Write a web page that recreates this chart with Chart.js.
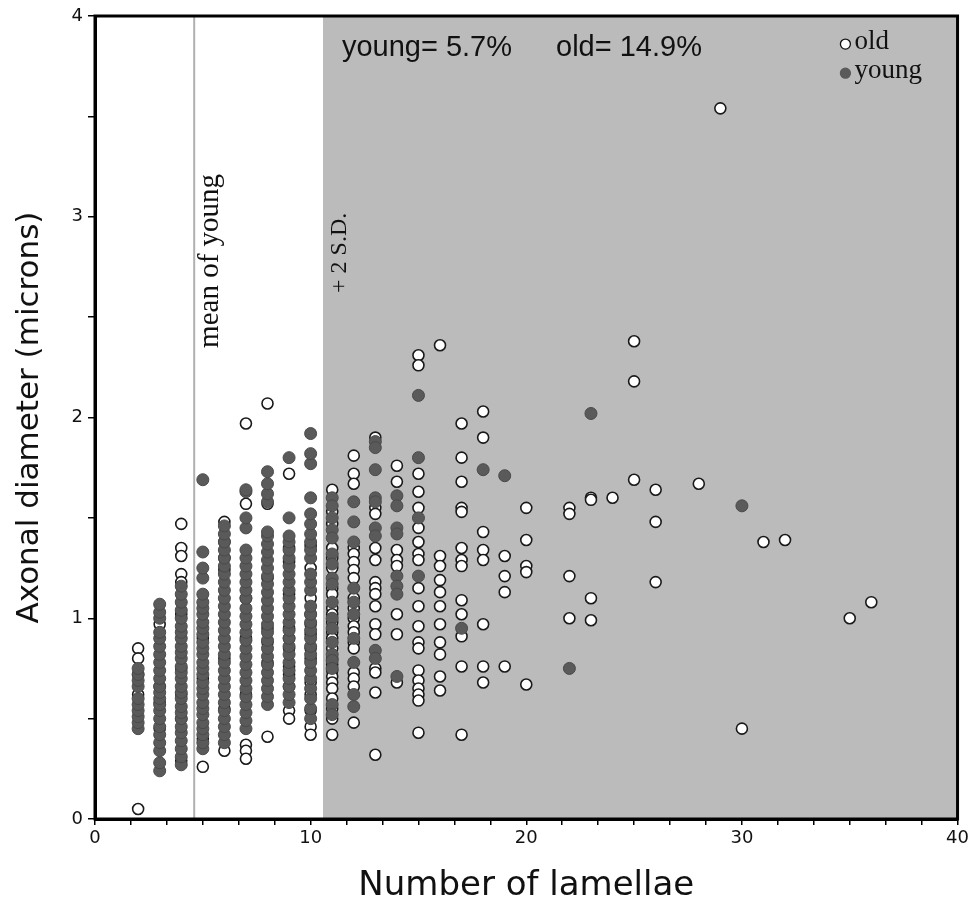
<!DOCTYPE html>
<html>
<head>
<meta charset="utf-8">
<script src="https://cdn.jsdelivr.net/npm/chart.js@4/dist/chart.umd.min.js"></script>
<style>
  body { margin: 0; background: #fff; }
  #wrap { width: 972px; height: 907px; }
</style>
</head>
<body>
<div id="wrap"><canvas id="chart1"></canvas></div>
<script>
// number of lamellae -> axonal diameters (microns)
const oldData = [
  [2, [0.85, 0.80, 0.72, 0.62, 0.05]],
  [3, [0.97, 0.66, 0.58, 0.45]],
  [4, [1.47, 1.35, 1.31, 1.22, 1.18, 1.02, 0.75, 0.62, 0.50, 0.29]],
  [5, [0.90, 0.70, 0.40, 0.26]],
  [6, [1.48, 1.38, 1.30, 1.24, 0.80, 0.55, 0.34]],
  [7, [1.97, 1.57, 1.10, 0.90, 0.62, 0.37, 0.34, 0.30]],
  [8, [2.07, 1.57, 1.20, 0.95, 0.88, 0.78, 0.41]],
  [9, [1.72, 1.35, 1.28, 1.12, 0.95, 0.90, 0.85, 0.76, 0.72, 0.66, 0.54, 0.50]],
  [10, [1.36, 1.25, 1.10, 1.02, 0.97, 0.92, 0.85, 0.80, 0.68, 0.62, 0.54, 0.46, 0.42]],
  [11, [1.64, 1.53, 1.47, 1.35, 1.30, 1.25, 1.15, 1.12, 1.05, 1.02, 0.98, 0.93, 0.90, 0.85, 0.80, 0.77, 0.74, 0.71, 0.68, 0.65, 0.60, 0.55, 0.50, 0.42]],
  [12, [1.81, 1.72, 1.67, 1.35, 1.32, 1.28, 1.24, 1.20, 1.10, 1.05, 1.00, 0.96, 0.93, 0.88, 0.85, 0.73, 0.70, 0.66, 0.48]],
  [13, [1.90, 1.55, 1.52, 1.35, 1.29, 1.18, 1.15, 1.12, 1.06, 0.97, 0.92, 0.75, 0.73, 0.63, 0.32]],
  [14, [1.76, 1.68, 1.34, 1.29, 1.26, 1.02, 0.92, 0.68]],
  [15, [2.31, 2.26, 1.72, 1.63, 1.55, 1.45, 1.38, 1.32, 1.29, 1.15, 1.06, 0.96, 0.88, 0.85, 0.74, 0.69, 0.65, 0.62, 0.59, 0.43]],
  [16, [2.36, 1.31, 1.26, 1.19, 1.13, 1.06, 0.97, 0.88, 0.82, 0.71, 0.64]],
  [17, [1.97, 1.80, 1.68, 1.55, 1.53, 1.35, 1.29, 1.26, 1.09, 1.02, 0.91, 0.76, 0.42]],
  [18, [2.03, 1.90, 1.43, 1.34, 1.29, 0.97, 0.76, 0.68]],
  [19, [1.31, 1.21, 1.13, 0.76]],
  [20, [1.55, 1.39, 1.26, 1.23, 0.67]],
  [22, [1.55, 1.52, 1.21, 1.00]],
  [23, [1.60, 1.59, 1.10, 0.99]],
  [24, [1.60]],
  [25, [2.38, 2.18, 1.69]],
  [26, [1.64, 1.48, 1.18]],
  [28, [1.67]],
  [29, [3.54]],
  [30, [0.45]],
  [31, [1.38]],
  [32, [1.39]],
  [35, [1.00]],
  [36, [1.08]]
];

const youngData = [
  [2, [0.45, 0.48, 0.51, 0.54, 0.57, 0.60, 0.66, 0.69, 0.72, 0.75]],
  [3, [0.24, 0.28, 0.34, 0.38, 0.42, 0.46, 0.50, 0.54, 0.57, 0.60, 0.63, 0.66, 0.70, 0.74, 0.78, 0.82, 0.86, 0.90, 0.93, 1.00, 1.03, 1.07]],
  [4, [0.27, 0.31, 0.35, 0.39, 0.43, 0.46, 0.50, 0.53, 0.56, 0.60, 0.63, 0.66, 0.70, 0.73, 0.76, 0.80, 0.83, 0.86, 0.90, 0.93, 0.96, 1.00, 1.04, 1.08, 1.12, 1.16]],
  [5, [0.35, 0.38, 0.42, 0.45, 0.48, 0.52, 0.55, 0.58, 0.62, 0.65, 0.68, 0.72, 0.75, 0.78, 0.82, 0.85, 0.88, 0.92, 0.95, 0.98, 1.02, 1.05, 1.08, 1.12, 1.20, 1.25, 1.33, 1.69]],
  [6, [0.38, 0.42, 0.46, 0.50, 0.54, 0.58, 0.62, 0.66, 0.70, 0.74, 0.78, 0.82, 0.86, 0.90, 0.94, 0.98, 1.02, 1.06, 1.10, 1.14, 1.18, 1.22, 1.26, 1.30, 1.34, 1.38, 1.42, 1.46]],
  [7, [0.45, 0.49, 0.53, 0.57, 0.61, 0.65, 0.69, 0.73, 0.77, 0.81, 0.85, 0.89, 0.93, 0.97, 1.01, 1.05, 1.10, 1.14, 1.18, 1.22, 1.26, 1.30, 1.34, 1.45, 1.50, 1.63, 1.64]],
  [8, [0.57, 0.61, 0.65, 0.69, 0.73, 0.77, 0.81, 0.85, 0.89, 0.93, 0.97, 1.01, 1.05, 1.09, 1.13, 1.17, 1.21, 1.25, 1.29, 1.33, 1.37, 1.41, 1.43, 1.58, 1.62, 1.67, 1.73]],
  [9, [0.58, 0.62, 0.66, 0.70, 0.74, 0.78, 0.82, 0.86, 0.90, 0.94, 0.98, 1.02, 1.06, 1.10, 1.14, 1.18, 1.22, 1.26, 1.30, 1.34, 1.38, 1.41, 1.50, 1.80]],
  [10, [0.50, 0.55, 0.60, 0.65, 0.70, 0.74, 0.78, 0.82, 0.86, 0.90, 0.94, 0.98, 1.02, 1.06, 1.14, 1.18, 1.22, 1.30, 1.34, 1.38, 1.42, 1.47, 1.52, 1.60, 1.77, 1.82, 1.92]],
  [11, [1.60, 1.56, 1.50, 1.44, 1.40, 1.32, 1.27, 1.20, 1.17, 1.08, 1.00, 0.95, 0.88, 0.82, 0.79, 0.75, 0.57, 0.52]],
  [12, [1.58, 1.48, 1.38, 1.15, 1.08, 1.02, 0.90, 0.78, 0.62, 0.56]],
  [13, [1.88, 1.85, 1.74, 1.60, 1.58, 1.45, 1.41, 0.84, 0.80]],
  [14, [1.61, 1.56, 1.45, 1.42, 1.21, 1.16, 1.12, 0.71]],
  [15, [2.11, 1.80, 1.50, 1.21]],
  [17, [0.95]],
  [18, [1.74]],
  [19, [1.71]],
  [22, [0.75]],
  [23, [2.02]],
  [30, [1.56]]
];

const xTickLabels = [0, 10, 20, 30, 40];
const yTickLabels = [0, 1, 2, 3, 4];
const meanOfYoung = 4.6;   // vertical grey line
const plus2SD = 10.57;     // start of shaded area

function toPoints(cols) {
  const pts = [];
  cols.forEach(([x, ys]) => ys.forEach((y) => pts.push({ x: x, y: y })));
  return pts;
}

const YOUNG_FILL = "#5a5a5a";
const SHADE = "#bbbbbb";
const SANS = "'DejaVu Sans', sans-serif";
const SERIF = "'Liberation Serif', 'Times New Roman', serif";

// frame, annotation texts and legend
const extras = {
  id: "extras",
  afterDatasetsDraw(chart) {
    const { ctx, chartArea, scales } = chart;
    const x = scales.x, y = scales.y;
    ctx.save();
    ctx.strokeStyle = "#000";
    ctx.lineWidth = 3;
    ctx.strokeRect(chartArea.left, chartArea.top, chartArea.right - chartArea.left, chartArea.bottom - chartArea.top);

    ctx.fillStyle = "#111";
    ctx.textBaseline = "alphabetic";
    ctx.textAlign = "left";
    ctx.font = "29px 'Liberation Sans', Arial, sans-serif";
    ctx.fillText("young= 5.7%", x.getPixelForValue(11.45), y.getPixelForValue(3.8));
    ctx.fillText("old= 14.9%", x.getPixelForValue(21.38), y.getPixelForValue(3.8));

    // rotated labels
    ctx.textAlign = "center";
    ctx.textBaseline = "middle";
    ctx.font = "29px " + SERIF;
    ctx.save();
    ctx.translate(x.getPixelForValue(5.35), y.getPixelForValue(2.78));
    ctx.rotate(-Math.PI / 2);
    ctx.fillText("mean of young", 0, 0);
    ctx.restore();
    ctx.font = "24px " + SERIF;
    ctx.save();
    ctx.translate(x.getPixelForValue(11.35), y.getPixelForValue(2.82));
    ctx.rotate(-Math.PI / 2);
    ctx.fillText("+ 2 S.D.", 0, 0);
    ctx.restore();

    // legend
    const lx = x.getPixelForValue(34.8);
    const rows = [["old", "#fff", 3.87], ["young", YOUNG_FILL, 3.725]];
    ctx.font = "27px " + SERIF;
    ctx.textAlign = "left";
    rows.forEach(([label, fill, v]) => {
      const py = y.getPixelForValue(v);
      ctx.beginPath();
      ctx.arc(lx, py + 2, 5, 0, Math.PI * 2);
      ctx.fillStyle = fill;
      ctx.fill();
      ctx.lineWidth = 1.3;
      ctx.strokeStyle = fill === "#fff" ? "#111" : fill;
      ctx.stroke();
      ctx.fillStyle = "#111";
      ctx.fillText(label, lx + 9, py);
    });
    ctx.restore();
  }
};

const ctx1 = document.getElementById("chart1").getContext("2d");
new Chart(ctx1, {
  type: "scatter",
  data: {
    datasets: [
      {
        label: "young",
        data: toPoints(youngData),
        backgroundColor: YOUNG_FILL,
        borderColor: "#4a4a4a",
        borderWidth: 1,
        pointRadius: 6,
        order: 1
      },
      {
        label: "old",
        data: toPoints(oldData),
        backgroundColor: "#ffffff",
        borderColor: "#1a1a1a",
        borderWidth: 1.6,
        pointRadius: 5.5,
        order: 2
      },
      {
        label: "mean",
        type: "line",
        data: [{ x: meanOfYoung, y: 0 }, { x: meanOfYoung, y: 4 }],
        borderColor: "#b0b0b0",
        borderWidth: 2,
        pointRadius: 0,
        order: 3
      },
      {
        label: "shade",
        type: "line",
        data: [{ x: plus2SD, y: 4 }, { x: 40, y: 4 }],
        borderWidth: 0,
        borderColor: SHADE,
        backgroundColor: SHADE,
        fill: "origin",
        pointRadius: 0,
        order: 4
      }
    ]
  },
  options: {
    responsive: true,
    maintainAspectRatio: false,
    animation: false,
    layout: { padding: { top: 16, right: 10, left: 0, bottom: 0 } },
    plugins: {
      legend: { display: false },
      tooltip: { enabled: false }
    },
    scales: {
      x: {
        type: "linear",
        min: 0,
        max: 40,
        afterFit: (scale) => { scale.height = 88; },
        ticks: {
          stepSize: 10 / 6,
          autoSkip: false,
          maxRotation: 0,
          padding: 3,
          color: "#111",
          font: { family: SANS, size: 18 },
          callback: (v) => {
            const hit = xTickLabels.find((t) => Math.abs(t - v) < 1e-6);
            return hit === undefined ? "" : String(hit);
          }
        },
        grid: { drawOnChartArea: false, drawTicks: true, tickLength: 6, color: "#000", lineWidth: 1.5 },
        border: { color: "#000", width: 3 },
        title: {
          display: true,
          text: "Number of lamellae",
          color: "#111",
          font: { family: SANS, size: 34 },
          padding: { top: 0, bottom: 0 }
        }
      },
      y: {
        min: 0,
        max: 4,
        afterFit: (scale) => { scale.width = 95; },
        ticks: {
          stepSize: 0.5,
          padding: 5,
          color: "#111",
          font: { family: SANS, size: 18 },
          callback: (v) => (yTickLabels.includes(v) ? String(v) : "")
        },
        grid: { drawOnChartArea: false, drawTicks: true, tickLength: 7, color: "#000", lineWidth: 1.5 },
        border: { color: "#000", width: 3 },
        title: {
          display: true,
          text: "Axonal diameter (microns)",
          color: "#111",
          font: { family: SANS, size: 31 },
          padding: { top: 11, bottom: 0 }
        }
      }
    }
  },
  plugins: [extras]
});
</script>
</body>
</html>
